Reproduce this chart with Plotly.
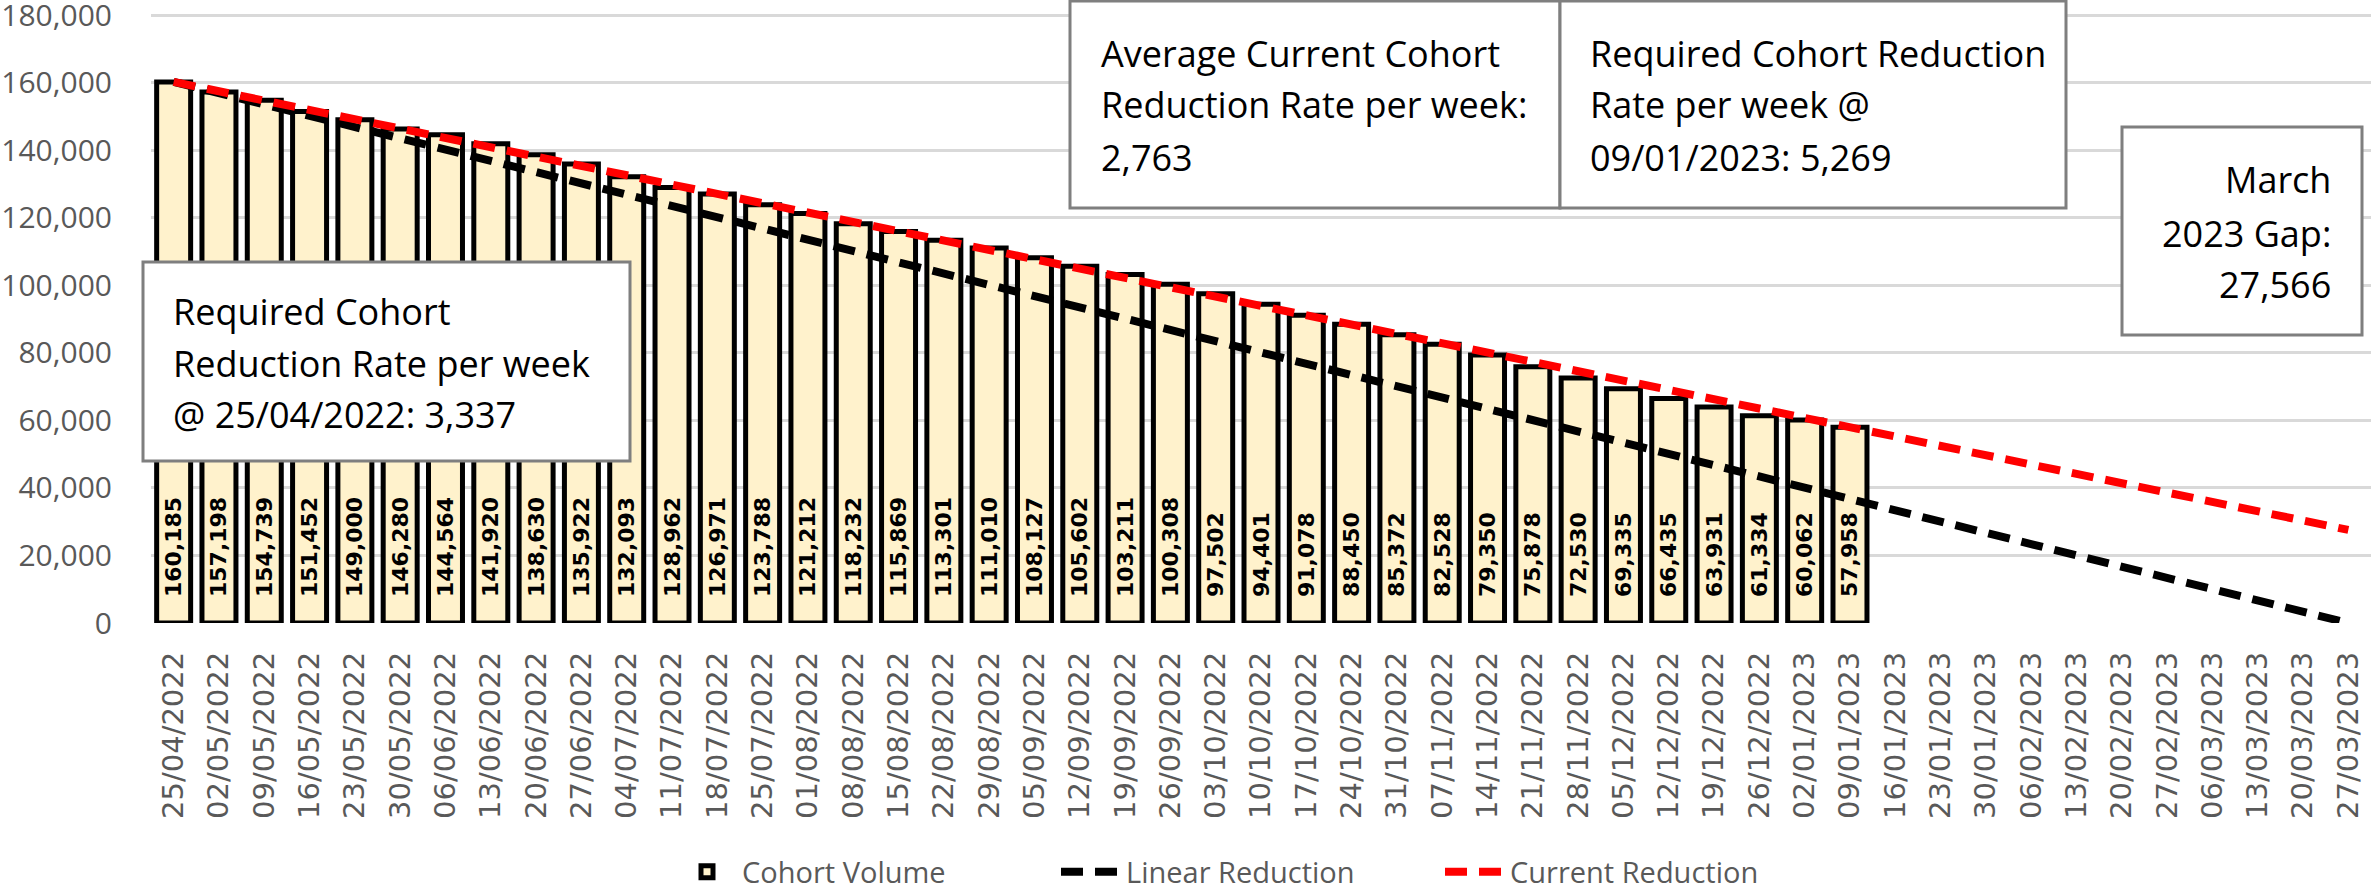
import plotly.graph_objects as go

# ---------------- data ----------------
week_labels = [
    "25/04/2022", "02/05/2022", "09/05/2022", "16/05/2022", "23/05/2022", "30/05/2022",
    "06/06/2022", "13/06/2022", "20/06/2022", "27/06/2022", "04/07/2022", "11/07/2022",
    "18/07/2022", "25/07/2022", "01/08/2022", "08/08/2022", "15/08/2022", "22/08/2022",
    "29/08/2022", "05/09/2022", "12/09/2022", "19/09/2022", "26/09/2022", "03/10/2022",
    "10/10/2022", "17/10/2022", "24/10/2022", "31/10/2022", "07/11/2022", "14/11/2022",
    "21/11/2022", "28/11/2022", "05/12/2022", "12/12/2022", "19/12/2022", "26/12/2022",
    "02/01/2023", "09/01/2023", "16/01/2023", "23/01/2023", "30/01/2023", "06/02/2023",
    "13/02/2023", "20/02/2023", "27/02/2023", "06/03/2023", "13/03/2023", "20/03/2023",
    "27/03/2023",
]
cohort_volume = [
    160185, 157198, 154739, 151452, 149000, 146280, 144564, 141920, 138630, 135922,
    132093, 128962, 126971, 123788, 121212, 118232, 115869, 113301, 111010, 108127,
    105602, 103211, 100308, 97502, 94401, 91078, 88450, 85372, 82528, 79350,
    75878, 72530, 69335, 66435, 63931, 61334, 60062, 57958,
]
# straight trend lines: start / end points
linear_reduction = [160185, 0]
current_reduction = [160185, 27566]

y_ticks = [0, 20000, 40000, 60000, 80000, 100000, 120000, 140000, 160000, 180000]

box_left_lines = ["Required Cohort", "Reduction Rate per week", "@ 25/04/2022: 3,337"]
box_mid_lines = ["Average Current Cohort", "Reduction Rate per week:", "2,763"]
box_right_lines = ["Required Cohort Reduction", "Rate per week @", "09/01/2023: 5,269"]
box_gap_lines = ["March", "2023 Gap:", "27,566"]

# ---------------- layout geometry (pixels) ----------------
W, H = 2374, 894
PL, PR, PT, PB = 151, 2371, 12, 623
Y_TOP_VAL = 180000 * (PB - PT) / (PB - 15)   # so that 180,000 sits at y=15 px

def px_x(px):
    return (px - PL) / (PR - PL)

def px_y(py):
    return (PB - py) / (PB - PT)

GRAY_TXT = "#595959"
NUM_FONT = "Open Sans"

fig = go.Figure()

bar_x = week_labels[:len(cohort_volume)]
bar_text = ["\u00a0\u00a0\u00a0" + f"{v:,}" for v in cohort_volume]

fig.add_trace(go.Bar(
    x=bar_x, y=cohort_volume, name="Cohort Volume",
    marker=dict(color="#FFF2CC", line=dict(color="#000000", width=5)),
    text=bar_text, textposition="inside", insidetextanchor="start",
    textangle=-90, constraintext="none",
    textfont=dict(family="DejaVu Sans", size=22, color="#000000", weight="bold"),
    hoverinfo="x+y",
))
fig.add_trace(go.Scatter(
    x=[week_labels[0], week_labels[-1]], y=linear_reduction, name="Linear Reduction",
    mode="lines", line=dict(color="#000000", width=8, dash="22px,12px"),
))
fig.add_trace(go.Scatter(
    x=[week_labels[0], week_labels[-1]], y=current_reduction, name="Current Reduction",
    mode="lines", line=dict(color="#FF0000", width=8, dash="22px,12px"),
))

# ---------------- boxes ----------------
boxes = [
    (143, 262, 630, 461),
    (1070, 1, 1560, 208),
    (1560, 1, 2066, 208),
    (2122, 127, 2362, 335),
]
shapes = []
for x0, y0, x1, y1 in boxes:
    shapes.append(dict(
        type="rect", xref="paper", yref="paper",
        x0=px_x(x0), x1=px_x(x1), y0=px_y(y1), y1=px_y(y0),
        fillcolor="#FFFFFF", line=dict(color="#7F7F7F", width=3), layer="above",
    ))

FS = 36
annotations = []

def add_lines(lines, xpx, baselines, anchor):
    for txt, b in zip(lines, baselines):
        annotations.append(dict(
            text=txt, xref="paper", yref="paper",
            x=px_x(xpx), y=px_y(b - 0.388 * FS),
            xanchor=anchor, yanchor="middle", showarrow=False,
            font=dict(family=NUM_FONT, size=FS, color="#000000"),
        ))

add_lines(box_left_lines, 171, [325, 377, 428], "left")
add_lines(box_mid_lines, 1099, [67, 118, 171], "left")
add_lines(box_right_lines, 1588, [67, 118, 171], "left")
add_lines(box_gap_lines, 2333, [193, 247, 298], "right")

fig.update_layout(
    width=W, height=H,
    margin=dict(l=PL, r=W - PR, t=PT, b=H - PB, autoexpand=False),
    paper_bgcolor="#FFFFFF", plot_bgcolor="#FFFFFF",
    bargap=0.25,
    showlegend=True,
    legend=dict(
        orientation="h", x=px_x(1248), xanchor="center", y=px_y(872), yanchor="middle",
        font=dict(family=NUM_FONT, size=29, color=GRAY_TXT),
        entrywidth=309, itemwidth=60, traceorder="normal",
    ),
    shapes=shapes,
    annotations=annotations,
    xaxis=dict(
        type="category", categoryorder="array", categoryarray=week_labels,
        range=[-0.5, len(week_labels) - 0.5], automargin=False,
        tickangle=-90, tickfont=dict(family="DejaVu Sans", size=29, color=GRAY_TXT),
        showgrid=False, showline=False, zeroline=False, ticks="",
        ticklabelstandoff=22, ticklabeloverflow="allow",
    ),
    yaxis=dict(
        range=[0, Y_TOP_VAL], tickmode="array", tickvals=y_ticks, tickformat=",",
        automargin=False, ticklabeloverflow="allow",
        tickfont=dict(family=NUM_FONT, size=30, color=GRAY_TXT),
        showgrid=True, gridcolor="#D9D9D9", gridwidth=2.5,
        zeroline=False, showline=False, ticks="", ticklabelstandoff=38,
    ),
)

fig.write_html(
    "out.html",
    config={"displayModeBar": False},
    post_script="document.body.style.margin='0px';document.body.style.overflow='hidden';",
)
